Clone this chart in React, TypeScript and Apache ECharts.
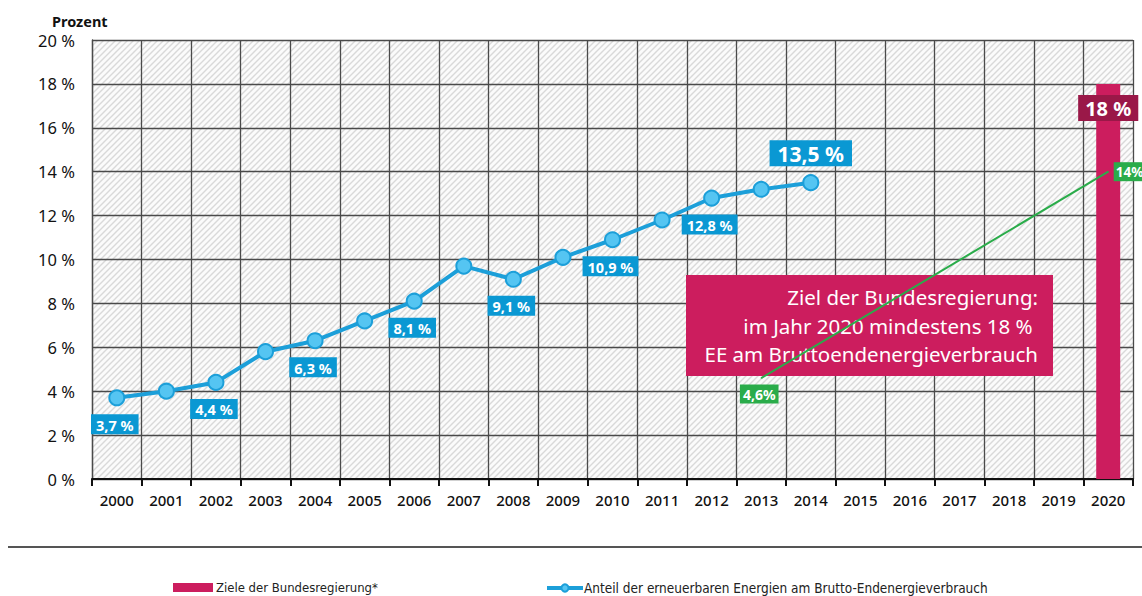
import React, { useEffect, useRef } from "react";
import * as echarts from "echarts";

const years = ["2000","2001","2002","2003","2004","2005","2006","2007","2008","2009","2010","2011","2012","2013","2014","2015","2016","2017","2018","2019","2020"];
const shareValues: (number | null)[] = [3.7,4.0,4.4,5.8,6.3,7.2,8.1,9.7,9.1,10.1,10.9,11.8,12.8,13.2,13.5,null,null,null,null,null,null];
const labeledYears = ["2000","2002","2004","2006","2008","2010","2012"];
const highlightYear = "2014";
const targetValues: (number | null)[] = [null,null,null,null,null,null,null,null,null,null,null,null,null,null,null,null,null,null,null,null,18];
const pathValues: (number | null)[] = [null,null,null,null,null,null,null,null,null,null,null,null,null,4.6,null,null,null,null,null,null,14];
const yTicks = { min: 0, max: 20, interval: 2 };

const FONT = "'Noto Sans', 'Open Sans', sans-serif";
const NARROW = "'Liberation Sans Narrow', 'DejaVu Sans Condensed', 'Noto Sans', sans-serif";
const BLUE_BOX = "#0a98d3";
const PINK = "#cc1d5e";
const MAROON = "#9a1848";
const GREEN = "#2aac4a";

function fmt(v: number, space: boolean) {
  return v.toFixed(1).replace(".", ",") + (space ? " %" : "%");
}

const hatch =
  "data:image/svg+xml;charset=utf-8," +
  encodeURIComponent(
    "<svg xmlns='http://www.w3.org/2000/svg' width='6' height='6'><rect width='6' height='6' fill='#fbfbfb'/><path d='M-1,1 L1,-1 M0,6 L6,0 M5,7 L7,5' stroke='#d9d9d9' stroke-width='1.4'/></svg>"
  );

export default function App() {
  const ref = useRef<HTMLDivElement>(null);
  useEffect(() => {
    document.body.style.margin = "0";
    const chart = echarts.init(ref.current!, null, { renderer: "svg" });
    const shareData = shareValues.map((v, i) => {
      if (v == null) return null;
      const y = years[i];
      if (y === highlightYear) {
        return {
          value: v,
          label: {
            show: true, position: "top", distance: 8,
            formatter: () => fmt(v, true),
            fontSize: 21, fontWeight: "bold", color: "#fff",
            backgroundColor: BLUE_BOX, padding: [3, 8, 2, 8], fontFamily: FONT,
          },
        };
      }
      if (labeledYears.includes(y)) {
        return {
          value: v,
          label: {
            show: true, position: "bottom", distance: 8, offset: [-2, 0],
            formatter: () => fmt(v, true),
            fontSize: 14.5, fontWeight: "bold", color: "#fff",
            backgroundColor: BLUE_BOX, padding: [3, 5, 2, 5], fontFamily: FONT,
          },
        };
      }
      return { value: v };
    });
    const pathData = pathValues.map((v, i) => {
      if (v == null) return null;
      const last = i === years.length - 1;
      return {
        value: v,
        label: {
          show: true,
          position: last ? "right" : "bottom",
          distance: last ? 5 : 6,
          offset: last ? [0, 0] : [-2, 0],
          formatter: () => fmt(v, false).replace(",0%", "%"),
          fontSize: last ? 13.5 : 14, fontWeight: "bold", color: "#fff",
          backgroundColor: GREEN, padding: last ? [3, 1, 2, 2] : [3, 3, 2, 3], fontFamily: FONT,
        },
      };
    });
    chart.setOption({
      animation: false,
      backgroundColor: "#fff",
      textStyle: { fontFamily: FONT },
      title: {
        text: "Prozent", left: 47, top: 8,
        textStyle: { fontSize: 14.5, fontWeight: "bold", color: "#111", fontFamily: FONT },
      },
      grid: {
        left: 92, right: 9, top: 40, bottom: 117,
        show: true, borderWidth: 0,
        backgroundColor: { image: hatch, repeat: "repeat", imageWidth: 6, imageHeight: 6 } as any,
      },
      legend: [
        {
          data: [{ name: "Ziele der Bundesregierung*", icon: "rect" }],
          left: 173, top: 581, itemWidth: 40, itemHeight: 9, itemGap: 5, padding: 0,
          textStyle: { fontSize: 13, color: "#222", fontFamily: NARROW, padding: [0, 0, 0, -2] },
        },
        {
          data: [{ name: "Anteil der erneuerbaren Energien am Brutto-Endenergieverbrauch" }],
          left: 545, top: 581, itemWidth: 36, itemHeight: 9, padding: 0,
          lineStyle: { width: 4 },
          textStyle: { fontSize: 13.5, color: "#222", fontFamily: NARROW, padding: [0, 0, 0, -4] },
        },
      ],
      xAxis: {
        type: "category", data: years, boundaryGap: true,
        axisLine: { lineStyle: { color: "#111", width: 2 } },
        axisTick: { show: true, length: 7, lineStyle: { color: "#111", width: 2 } },
        axisLabel: { fontSize: 15, fontWeight: 500, color: "#111", margin: 13, fontFamily: FONT },
        splitLine: { show: true, lineStyle: { color: "#4a4a4a", width: 1.3 } },
      },
      yAxis: {
        type: "value", min: yTicks.min, max: yTicks.max, interval: yTicks.interval,
        axisLine: { show: true, lineStyle: { color: "#4a4a4a", width: 1.3 } },
        axisTick: { show: false },
        axisLabel: { fontSize: 16.5, color: "#111", margin: 17, formatter: "{value} %", fontFamily: FONT },
        splitLine: { show: true, lineStyle: { color: "#4a4a4a", width: 1.3 } },
      },
      graphic: [
        {
          type: "line", z: 1, silent: true,
          shape: { x1: 8, y1: 547, x2: 1142, y2: 547 },
          style: { stroke: "#555", lineWidth: 2 },
        },
        {
          type: "rect", z: 1, silent: true,
          shape: { x: 686, y: 275, width: 367, height: 101 },
          style: { fill: PINK },
        },
        {
          type: "text", z: 1, silent: true,
          x: 1038, y: 283,
          style: {
            text: "Ziel der Bundesregierung:\nim Jahr 2020 mindestens 18 % \nEE am Bruttoendenergieverbrauch",
            align: "right", verticalAlign: "top",
            fill: "#fff", fontSize: 20.5, lineHeight: 28.5, fontFamily: FONT,
          },
        },
      ],
      series: [
        {
          name: "Ziele der Bundesregierung*",
          type: "bar", data: targetValues, barWidth: 24, z: 3,
          itemStyle: { color: PINK },
          label: {
            show: true, position: "insideTop", distance: 11,
            formatter: "{c} %", fontSize: 20, fontWeight: "bold", color: "#fff",
            backgroundColor: MAROON, padding: [4, 7, 2, 7], fontFamily: FONT,
          },
        },
        {
          name: "Anteil der erneuerbaren Energien am Brutto-Endenergieverbrauch",
          type: "line", data: shareData, z: 5,
          symbol: "circle", symbolSize: 15,
          lineStyle: { color: "#1c9fd9", width: 4 },
          itemStyle: { color: "#55c5f2", borderColor: "#1c9fd9", borderWidth: 2 },
        },
        {
          name: "Zielpfad",
          type: "line", data: pathData, z: 6, connectNulls: true,
          symbol: "circle", symbolSize: 1,
          lineStyle: { color: GREEN, width: 2 },
          itemStyle: { color: GREEN },
        },
      ],
    });
    return () => chart.dispose();
  }, []);
  return <div ref={ref} style={{ width: 1142, height: 596 }} />;
}
